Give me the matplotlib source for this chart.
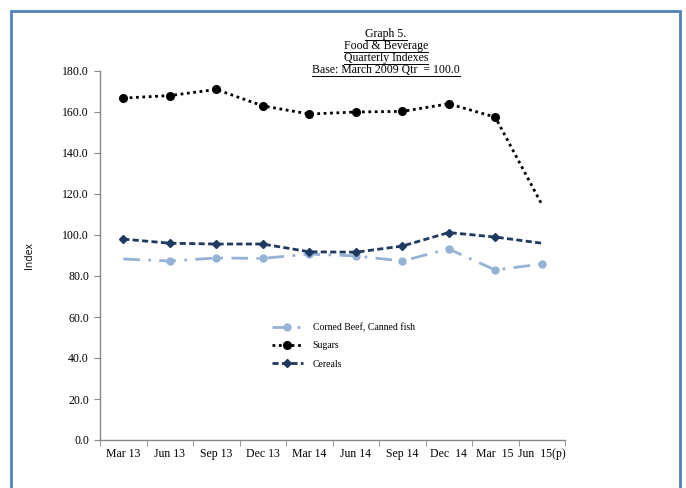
import matplotlib
matplotlib.use("Agg")
import matplotlib.pyplot as plt
from matplotlib.patches import Rectangle
from matplotlib.lines import Line2D

categories = ["Mar 13", "Jun 13", "Sep 13", "Dec 13", "Mar 14", "Jun 14",
              "Sep 14", "Dec  14", "Mar  15", "Jun  15(p)"]
corned_beef = [88.3, 87.3, 88.8, 88.6, 90.7, 89.8, 87.3, 93.2, 82.9, 85.9]
sugars = [166.8, 168.0, 171.0, 163.0, 159.0, 160.0, 160.3, 164.0, 157.5, 115.0]
cereals = [98.0, 96.0, 95.6, 95.6, 91.8, 91.6, 94.6, 101.2, 99.0, 96.0]
yticks = [0, 20, 40, 60, 80, 100, 120, 140, 160, 180]
title_lines = ["Graph 5.", "Food & Beverage", "Quarterly Indexes", "Base: March 2009 Qtr  = 100.0"]

serif = ["Liberation Serif", "DejaVu Serif"]

fig = plt.figure(figsize=(6.86, 4.88), dpi=100)
fig.patch.set_facecolor("white")
fig.add_artist(Rectangle((11/686, -0.05), (680-11)/686, 1.05 - 11/488,
                         transform=fig.transFigure, fill=False,
                         edgecolor="#4F81BD", linewidth=2.0))

ax = fig.add_axes([100/686, 48/488, 465/686, 369/488])
x = list(range(len(categories)))

ax.plot(x, corned_beef, color="#95B3D7", lw=2.0, dashes=(6, 3, 1, 3),
        marker="o", ms=5, markevery=list(range(1, 10)), label="Corned Beef, Canned fish")
ax.plot(x, sugars, color="black", lw=2.0, linestyle=(0, (1, 1.3)),
        marker="o", ms=5.5, markevery=list(range(0, 9)), label="Sugars")
ax.plot(x, cereals, color="#1F3A60", lw=2.0, dashes=(2.2, 1.2),
        marker="D", ms=4, markevery=list(range(0, 9)), label="Cereals")

ax.set_xlim(-0.5, 9.5)
ax.set_ylim(0, 180)
ax.set_yticks(yticks)
ax.set_yticklabels([f"{v:.1f}" for v in yticks], fontfamily=serif, fontsize=8.5)
ax.set_xticks(x)
ax.set_xticklabels(categories, fontfamily=serif, fontsize=8.5)
ax.set_xticks([i - 0.5 for i in range(11)], minor=True)
ax.tick_params(axis="x", which="major", length=0, pad=6)
ax.tick_params(axis="x", which="minor", length=4, color="#888888", direction="out")
ax.tick_params(axis="y", length=4, color="#888888", direction="out", pad=4)
for s in ["top", "right"]:
    ax.spines[s].set_visible(False)
for s in ["left", "bottom"]:
    ax.spines[s].set_color("#888888")
    ax.spines[s].set_linewidth(1.0)

ax.set_ylabel("Index", fontfamily=["Open Sans", "DejaVu Sans"], fontsize=7.5)
ax.yaxis.set_label_coords(-65/465, 0.5)

leg = ax.legend(loc="upper left", bbox_to_anchor=(163/465, 126/369), frameon=False,
                prop={"family": serif, "size": 7}, handlelength=3.2, handletextpad=1.0,
                labelspacing=0.95, numpoints=1)

for i, t in enumerate(title_lines):
    fig.text(386/686, 1 - (34 + 12*i)/488, t, ha="center", va="center",
             fontfamily=serif, fontsize=8.5)

fig.canvas.draw()
renderer = fig.canvas.get_renderer()
inv = fig.transFigure.inverted()
for txt in list(fig.texts):
    bb = txt.get_window_extent(renderer)
    (x0, y0), (x1, y1) = inv.transform([(bb.x0, bb.y0), (bb.x1, bb.y1)])
    fig.add_artist(Line2D([x0, x1], [y0 - 0.001, y0 - 0.001], transform=fig.transFigure,
                          color="black", lw=0.7))

fig.savefig("out.png", dpi=100)
